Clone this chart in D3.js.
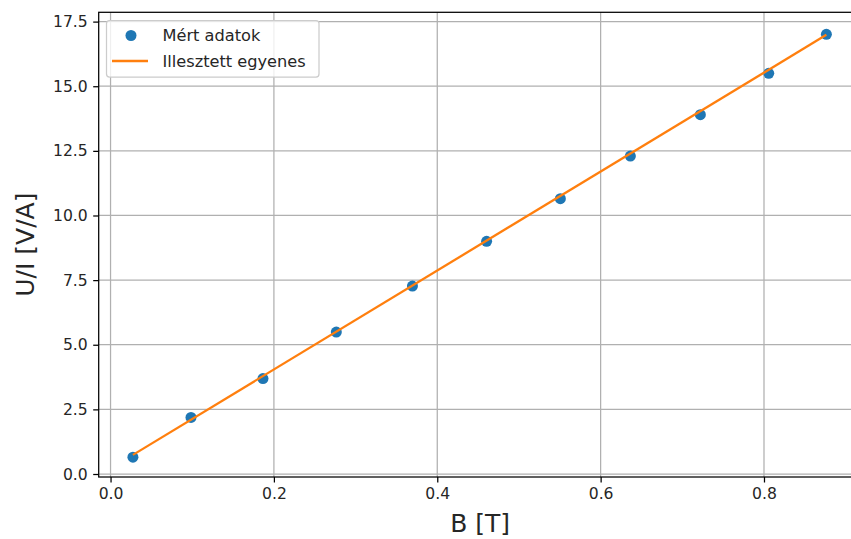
<!DOCTYPE html>
<html>
<head>
<meta charset="utf-8">
<script src="https://cdn.jsdelivr.net/npm/d3@7/dist/d3.min.js"></script>
<style>
html,body{margin:0;padding:0;background:#fff;}
svg{display:block;}
text{font-family:"DejaVu Sans",sans-serif;fill:#262626;}
</style>
</head>
<body>
<svg id="chart" width="851" height="539"></svg>
<script>
// ---- data ----
const bValues = [0.0274, 0.0985, 0.1866, 0.2764, 0.3696, 0.4604, 0.5507, 0.6364, 0.7221, 0.8058, 0.8764];
const uiValues = [0.65, 2.19, 3.69, 5.49, 7.27, 9.00, 10.65, 12.30, 13.90, 15.50, 17.01];
const fitB = [0.0274, 0.8764];
const fitUI = [0.74, 16.99];
const xTicks = [0.0, 0.2, 0.4, 0.6, 0.8];
const yTicks = [0.0, 2.5, 5.0, 7.5, 10.0, 12.5, 15.0, 17.5];
const seriesNames = ["Mért adatok", "Illesztett egyenes"];
const xLabel = "B [T]";
const yLabel = "U/I [V/A]";

// ---- layout ----
const L = 98.7, R = 861.6, T = 12.3, B = 477;
const svg = d3.select("#chart");
const x = d3.scaleLinear().domain([-0.0145, 0.9195]).range([L, R]);
const y = d3.scaleLinear().domain([-0.116, 17.86]).range([B, T]);
const blue = "#1f77b4", orange = "#ff7f0e";

// grid
const grid = svg.append("g");
grid.selectAll("line.gx").data(xTicks).enter().append("line")
  .attr("x1", d => x(d)).attr("x2", d => x(d)).attr("y1", T).attr("y2", B)
  .attr("stroke", "#b0b0b0").attr("stroke-width", 1.25);
grid.selectAll("line.gy").data(yTicks).enter().append("line")
  .attr("x1", L).attr("x2", R).attr("y1", d => y(d)).attr("y2", d => y(d))
  .attr("stroke", "#b0b0b0").attr("stroke-width", 1.25);

// axes
const fmt = d3.format(".1f");
const xAxis = d3.axisBottom(x).tickValues(xTicks).tickFormat(fmt).tickSize(5.5).tickPadding(5.5);
const yAxis = d3.axisLeft(y).tickValues(yTicks).tickFormat(fmt).tickSize(5.5).tickPadding(5.5);
const gx = svg.append("g").attr("transform", `translate(0,${B})`).call(xAxis);
const gy = svg.append("g").attr("transform", `translate(${L},0)`).call(yAxis);
[gx, gy].forEach(g => {
  g.select(".domain").remove();
  g.selectAll(".tick line").attr("stroke", "#000").attr("stroke-width", 1.25);
  g.selectAll(".tick text").style("font-family", "DejaVu Sans").style("font-size", "15.6px").attr("fill", "#262626");
});

// spines
svg.append("rect").attr("x", L).attr("y", T).attr("width", R - L).attr("height", B - T)
  .attr("fill", "none").attr("stroke", "#000").attr("stroke-width", 1.25);

// scatter
svg.append("g").selectAll("circle").data(bValues).enter().append("circle")
  .attr("cx", d => x(d)).attr("cy", (d, i) => y(uiValues[i])).attr("r", 5.5)
  .attr("fill", blue);

// fit line
svg.append("path").datum(fitB.map((b, i) => [b, fitUI[i]]))
  .attr("d", d3.line().x(d => x(d[0])).y(d => y(d[1])))
  .attr("fill", "none").attr("stroke", orange).attr("stroke-width", 2.3);

// axis labels
svg.append("text").attr("x", (L + R) / 2).attr("y", 532).attr("text-anchor", "middle")
  .style("font-size", "25px").text(xLabel);
svg.append("text").attr("transform", `translate(34,${(T + B) / 2}) rotate(-90)`)
  .attr("text-anchor", "middle").style("font-size", "25px").text(yLabel);

// legend
const lg = svg.append("g");
lg.append("rect").attr("x", 106.5).attr("y", 20.5).attr("width", 212.5).attr("height", 56.5)
  .attr("rx", 3).attr("fill", "#fff").attr("fill-opacity", 0.8)
  .attr("stroke", "#cccccc").attr("stroke-width", 1.25);
lg.append("circle").attr("cx", 131).attr("cy", 35.5).attr("r", 5.5).attr("fill", blue);
lg.append("line").attr("x1", 112).attr("x2", 148).attr("y1", 61).attr("y2", 61)
  .attr("stroke", orange).attr("stroke-width", 2.3);
lg.selectAll("text").data(seriesNames).enter().append("text")
  .attr("x", 162.5).attr("y", (d, i) => 41 + i * 25.5)
  .style("font-size", "16.2px").text(d => d);
</script>
</body>
</html>
